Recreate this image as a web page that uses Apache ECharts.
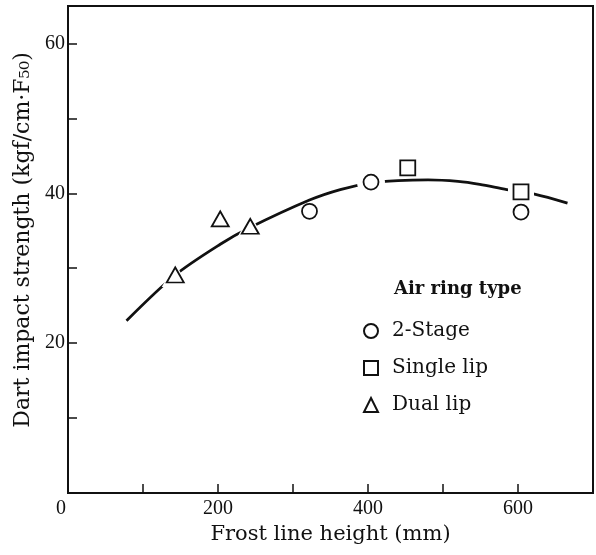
<!DOCTYPE html>
<html><head><meta charset="utf-8">
<script src="https://cdn.jsdelivr.net/npm/echarts@6/dist/echarts.min.js"></script>
<style>html,body{margin:0;padding:0;background:#fff}#c{width:596px;height:555px}</style>
</head><body><div id="c"></div>
<script>
// ---- data ----
const xLabelTicks = [0, 200, 400, 600];
const yLabelTicks = [20, 40, 60];
const fitCurve = [[78, 23.0], [143, 29.1], [203, 33.2], [242, 35.4], [322, 39.1], [363, 40.5], [404, 41.4], [440, 41.7], [480, 41.8], [520, 41.6], [549, 41.2], [585, 40.5], [622, 39.9], [666, 38.7]];
const twoStage = [[322, 37.6], [404, 41.5], [604, 37.5]];
const singleLip = [[453, 43.4], [604, 40.2]];
const dualLip = [[143, 29.1], [203, 36.6], [243, 35.6]];
const seriesNames = ['2-Stage', 'Single lip', 'Dual lip'];
const legendTitle = 'Air ring type';
const xName = 'Frost line height (mm)';
const yName = 'Dart impact strength (kgf/cm\u00b7F\u2085\u2080)';

// ---- styling ----
const ink = '#111111';
const serif = 'DejaVu Serif';
const numFont = 'Liberation Serif';
const circleSize = 15, rectSize = 15, triSize = [17, 15];

// points where the fitted curve is interrupted around a marker
const gapPoints = [
  { value: dualLip[0], symbol: 'triangle', symbolSize: [27, 24] },
  { value: dualLip[2], symbol: 'triangle', symbolSize: [27, 24] },
  { value: twoStage[1], symbol: 'circle', symbolSize: 28 },
  { value: singleLip[1], symbol: 'rect', symbolSize: 26 }
];

const chart = echarts.init(document.getElementById('c'), null, { renderer: 'canvas' });
const markerStyle = { color: '#fff', borderColor: ink, borderWidth: 1.8, opacity: 1 };

chart.setOption({
  backgroundColor: '#fff',
  animation: false,
  title: {
    text: legendTitle, left: 389, top: 275,
    textStyle: { fontFamily: serif, fontSize: 18, fontWeight: 'bold', color: ink }
  },
  legend: {
    data: seriesNames, orient: 'vertical', left: 358, top: 316,
    itemWidth: 14, itemHeight: 14, itemGap: 17,
    textStyle: { fontFamily: serif, fontSize: 20, color: ink, lineHeight: 20, padding: [0, 0, 0, 9] }
  },
  grid: { left: 68, right: 3, top: 6, bottom: 62, show: true, borderColor: ink, borderWidth: 2, backgroundColor: 'transparent' },
  xAxis: {
    type: 'value', min: 0, max: 700, interval: 100,
    name: xName, nameLocation: 'middle', nameGap: 31,
    nameTextStyle: { fontFamily: serif, fontSize: 21, color: ink },
    axisLine: { lineStyle: { color: ink, width: 2 } },
    axisTick: { inside: true, length: 9, lineStyle: { color: ink, width: 1.5 } },
    splitLine: { show: false },
    axisLabel: {
      margin: 6, color: ink, fontFamily: numFont, fontSize: 20,
      formatter: v => v === 0 ? '{z|0}' : (xLabelTicks.includes(v) ? String(v) : ''),
      rich: { z: { fontFamily: numFont, fontSize: 20, color: ink, padding: [0, 14, 0, 0] } }
    }
  },
  yAxis: {
    type: 'value', min: 0, max: 65, interval: 10,
    name: yName, nameLocation: 'middle', nameGap: 32,
    nameTextStyle: { fontFamily: serif, fontSize: 22, color: ink, padding: [0, 0, 0, 19] },
    axisLine: { lineStyle: { color: ink, width: 2 } },
    axisTick: { inside: true, length: 9, lineStyle: { color: ink, width: 1.5 } },
    splitLine: { show: false },
    axisLabel: {
      margin: 3, color: ink, fontFamily: numFont, fontSize: 20,
      formatter: v => yLabelTicks.includes(v) ? String(v) : ''
    }
  },
  series: [
    { type: 'line', name: 'fit', data: fitCurve, smooth: 0.3, showSymbol: false, symbol: 'none',
      lineStyle: { color: ink, width: 2.8 }, z: 1, silent: true },
    { type: 'scatter', name: 'gap', data: gapPoints, itemStyle: { color: '#fff', opacity: 1 }, z: 2, silent: true },
    { type: 'scatter', name: seriesNames[0], data: twoStage, symbol: 'circle', symbolSize: circleSize, itemStyle: markerStyle, z: 3 },
    { type: 'scatter', name: seriesNames[1], data: singleLip, symbol: 'rect', symbolSize: rectSize, itemStyle: markerStyle, z: 3 },
    { type: 'scatter', name: seriesNames[2], data: dualLip, symbol: 'triangle', symbolSize: triSize, itemStyle: markerStyle, z: 3 }
  ]
});
</script>
</body></html>
